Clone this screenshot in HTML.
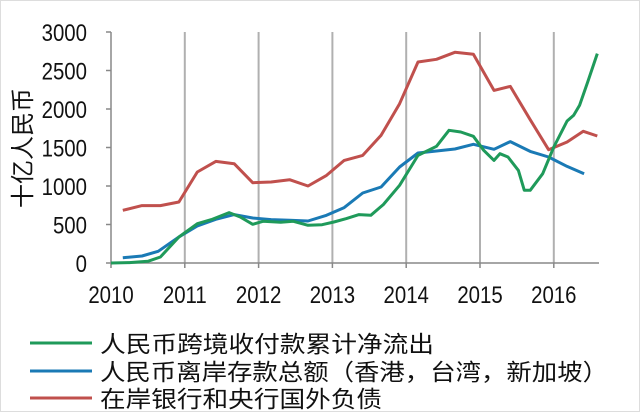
<!DOCTYPE html>
<html><head><meta charset="utf-8"><style>
html,body{margin:0;padding:0;background:#fff;}
svg{display:block;font-family:"Liberation Sans","Noto Sans CJK SC",sans-serif;}
</style></head><body>
<svg id="chart" width="640" height="412" viewBox="0 0 640 412" xmlns="http://www.w3.org/2000/svg">
<rect x="0.5" y="0.5" width="639" height="411" fill="#fff" stroke="#ddd"/>
<g id="grid"></g><g id="axes"></g><g id="series"></g>
<text transform="translate(31,148) rotate(-90)" text-anchor="middle" font-size="24" fill="#111" font-family="'Liberation Sans','Noto Sans CJK SC',sans-serif">十亿人民币</text>
<g>
<g><line x1="30" y1="343" x2="92" y2="343" stroke="#1f9a5a" stroke-width="3"/><text x="100" y="352" font-size="23" textLength="334" lengthAdjust="spacingAndGlyphs" fill="#111">人民币跨境收付款累计净流出</text></g>
<g><line x1="30" y1="371" x2="92" y2="371" stroke="#1a7ab5" stroke-width="3"/><text x="100" y="380" font-size="23" textLength="508" lengthAdjust="spacingAndGlyphs" fill="#111">人民币离岸存款总额（香港，台湾，新加坡）</text></g>
<g><line x1="30" y1="398" x2="92" y2="398" stroke="#c0504d" stroke-width="3"/><text x="100" y="407" font-size="23" textLength="282" lengthAdjust="spacingAndGlyphs" fill="#111">在岸银行和央行国外负债</text></g>
</g>
</svg>
<script>
const yTicks=[0,500,1000,1500,2000,2500,3000];
const xTicks=[2010,2011,2012,2013,2014,2015,2016];
const greenX=[2010,2010.25,2010.5,2010.67,2010.92,2011.17,2011.36,2011.6,2011.75,2011.92,2012.06,2012.3,2012.47,2012.67,2012.86,2013.02,2013.19,2013.36,2013.52,2013.69,2013.91,2014.16,2014.41,2014.58,2014.74,2014.91,2015.05,2015.19,2015.27,2015.38,2015.52,2015.6,2015.68,2015.85,2016,2016.18,2016.27,2016.35,2016.46,2016.59];
const greenY=[0,5,22,78,338,511,563,654,597,502,541,528,541,489,498,532,576,628,619,758,1009,1398,1515,1723,1701,1645,1463,1333,1420,1377,1203,944,944,1160,1506,1844,1918,2048,2351,2719];
const blueX=[2010.16,2010.42,2010.64,2010.92,2011.17,2011.42,2011.67,2011.92,2012.17,2012.42,2012.67,2012.92,2013.16,2013.41,2013.66,2013.91,2014.16,2014.41,2014.66,2014.91,2015.19,2015.41,2015.68,2015.93,2016.18,2016.41];
const blueY=[69,91,152,338,480,567,628,584,563,554,545,619,719,909,987,1247,1429,1455,1481,1541,1476,1576,1450,1377,1255,1160];
const redX=[2010.16,2010.42,2010.67,2010.92,2011.17,2011.42,2011.67,2011.92,2012.17,2012.42,2012.67,2012.92,2013.16,2013.41,2013.66,2013.91,2014.16,2014.41,2014.66,2014.91,2015.19,2015.41,2015.68,2015.93,2016.18,2016.4,2016.59];
const redY=[684,745,745,792,1182,1320,1290,1043,1052,1082,1000,1138,1333,1398,1658,2069,2610,2645,2736,2710,2242,2294,1861,1472,1571,1710,1649];

const NS="http://www.w3.org/2000/svg";
const X0=111,XW=73.8,Y0=263,YH=231/3000,XEND=599;
const sx=v=>X0+(v-2010)*XW, sy=v=>Y0-v*YH;
function mk(tag,attrs,parent){const e=document.createElementNS(NS,tag);for(const k in attrs)e.setAttribute(k,attrs[k]);parent.appendChild(e);return e;}
const grid=document.getElementById('grid'),axes=document.getElementById('axes'),series=document.getElementById('series');
xTicks.forEach(t=>{
  if(t>2010){const l=mk('line',{x1:sx(t),x2:sx(t),y1:sy(3000),y2:Y0,stroke:'#b0b0b0','stroke-width':2},grid);
  
  }
  const tk=mk('line',{x1:sx(t),x2:sx(t),y1:Y0,y2:Y0+5,stroke:'#888','stroke-width':1.5},axes);
  
  
  const tx=mk('text',{transform:'translate('+sx(t)+','+(Y0+40)+') scale(0.85,1)','text-anchor':'middle','font-size':24,fill:'#111'},axes);
  tx.textContent=t;
  
  
});
yTicks.forEach(t=>{
  const tk=mk('line',{x1:X0-5,x2:X0,y1:sy(t),y2:sy(t),stroke:'#888','stroke-width':1.5},axes);
  
  
  const tx=mk('text',{transform:'translate(87,'+(sy(t)+9)+') scale(0.85,1)','text-anchor':'end','font-size':24,fill:'#111'},axes);
  tx.textContent=t;
  
  
});
const ya=mk('line',{x1:X0,x2:X0,y1:sy(3000),y2:Y0,stroke:'#888','stroke-width':1.5},axes);


const xa=mk('line',{x1:X0,x2:XEND,y1:Y0,y2:Y0,stroke:'#888','stroke-width':1.5},axes);


function line(xs,ys,color,name){
  const d=xs.map((x,i)=>(i?'L':'M')+sx(x).toFixed(1)+','+sy(ys[i]).toFixed(1)).join('');
  const p=mk('path',{d:d,fill:'none',stroke:color,'stroke-width':3,'stroke-linejoin':'round'},series);
  
  
}
line(redX,redY,'#c0504d','line-onshore-liabilities');
line(blueX,blueY,'#1a7ab5','line-offshore-deposits');
line(greenX,greenY,'#1f9a5a','line-cumulative-outflow');
</script>
</body></html>
